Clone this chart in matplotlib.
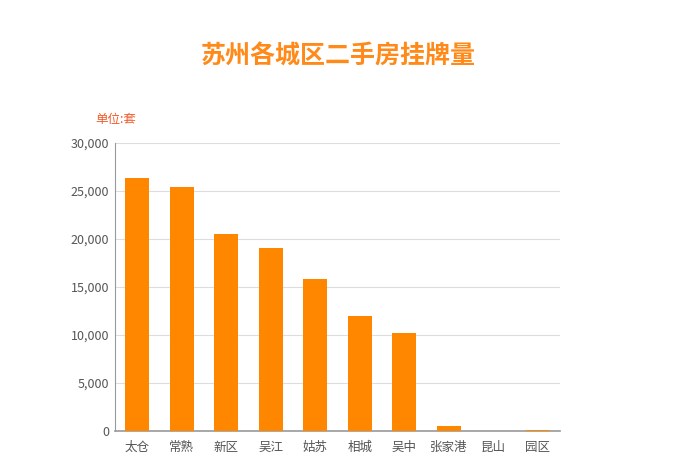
import matplotlib.pyplot as plt
from matplotlib.ticker import FuncFormatter

plt.rcParams['font.family'] = ['Noto Sans CJK SC', 'DejaVu Sans']

districts = ['太仓', '常熟', '新区', '吴江', '姑苏', '相城', '吴中', '张家港', '昆山', '园区']
listings = [26400, 25400, 20500, 19100, 15800, 12000, 10200, 500, 50, 80]

fig = plt.figure(figsize=(6.76, 4.71), dpi=100)
ax = fig.add_axes([115 / 676, 40 / 471, 445 / 676, 288 / 471])

ax.bar(range(len(districts)), listings, width=0.54, color='#FF8700', zorder=3)

ax.set_xlim(-0.5, len(districts) - 0.5)
ax.set_ylim(0, 30000)
ax.set_yticks(range(0, 30001, 5000))
ax.yaxis.set_major_formatter(FuncFormatter(lambda v, p: f'{int(v):,}'))
ax.set_xticks(range(len(districts)))
ax.set_xticklabels(districts)
ax.tick_params(axis='both', length=0, labelsize=9, colors='#555555', pad=7)
ax.tick_params(axis='y', pad=4)

ax.grid(axis='y', color='#dddddd', linewidth=0.8, zorder=0)
for s in ['top', 'right']:
    ax.spines[s].set_visible(False)
ax.spines['left'].set_color('#999999')
ax.spines['bottom'].set_color('#999999')
ax.spines['bottom'].set_linewidth(1.2)

fig.text(338 / 676, 1 - 57 / 471, '苏州各城区二手房挂牌量', ha='center', va='center',
         fontsize=18, fontweight='bold', color='#FF8A1A')
fig.text(95 / 676, 1 - 119 / 471, '单位:套', ha='left', va='center',
         fontsize=9, color='#F05A28')

fig.savefig('out.png', dpi=100)
